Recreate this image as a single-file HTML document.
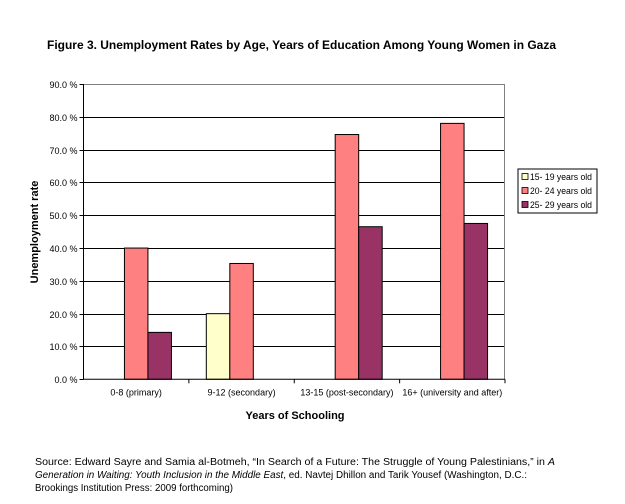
<!DOCTYPE html>
<html><head><meta charset="utf-8"><style>
body{margin:0;background:#fff;}
svg{display:block;font-family:"Liberation Sans",Arial,sans-serif;}
</style></head><body>
<svg width="625" height="504" viewBox="0 0 625 504">
<text x="47" y="49" font-size="12" font-weight="bold" textLength="509" lengthAdjust="spacingAndGlyphs">Figure 3. Unemployment Rates by Age, Years of Education Among Young Women in Gaza</text>
<g id="grid"></g>
<g id="bars"></g>
<g id="axes"></g>
<text transform="translate(38,232) rotate(-90)" text-anchor="middle" font-size="11" font-weight="bold">Unemployment rate</text>
<text x="295" y="419" text-anchor="middle" font-size="11" font-weight="bold">Years of Schooling</text>
<g>
<rect x="518" y="169" width="79" height="44" fill="#fff" stroke="#000" stroke-width="1"/>
<g><rect x="522" y="173.5" width="6" height="6" fill="#ffffcc" stroke="#000" stroke-width="0.8"/><text x="530" y="180" font-size="9" textLength="62" lengthAdjust="spacingAndGlyphs">15- 19 years old</text></g>
<g><rect x="522" y="187.5" width="6" height="6" fill="#ff8080" stroke="#000" stroke-width="0.8"/><text x="530" y="194" font-size="9" textLength="62" lengthAdjust="spacingAndGlyphs">20- 24 years old</text></g>
<g><rect x="522" y="201.5" width="6" height="6" fill="#993366" stroke="#000" stroke-width="0.8"/><text x="530" y="208" font-size="9" textLength="62" lengthAdjust="spacingAndGlyphs">25- 29 years old</text></g>
</g>
<g font-size="10">
<text x="35" y="465" textLength="520" lengthAdjust="spacingAndGlyphs">Source: Edward Sayre and Samia al-Botmeh, “In Search of a Future: The Struggle of Young Palestinians,” in <tspan font-style="italic">A</tspan></text>
<text x="35" y="478" textLength="492" lengthAdjust="spacingAndGlyphs"><tspan font-style="italic">Generation in Waiting: Youth Inclusion in the Middle East</tspan>, ed. Navtej Dhillon and Tarik Yousef (Washington, D.C.:</text>
<text x="35" y="491" textLength="198" lengthAdjust="spacingAndGlyphs">Brookings Institution Press: 2009 forthcoming)</text>
</g>
</svg>
<script>
const categories = ["0-8 (primary)", "9-12 (secondary)", "13-15 (post-secondary)", "16+ (university and after)"];
const seriesNames = ["15-19 years old", "20-24 years old", "25-29 years old"];
const s1519 = [0, 20.0, 0, 0];
const s2024 = [40.0, 35.3, 74.6, 78.0];
const s2529 = [14.3, 0, 46.5, 47.5];
const yTicks = [0, 10, 20, 30, 40, 50, 60, 70, 80, 90];
const yTickLabels = ["0.0 %", "10.0 %", "20.0 %", "30.0 %", "40.0 %", "50.0 %", "60.0 %", "70.0 %", "80.0 %", "90.0 %"];

const NS = "http://www.w3.org/2000/svg";
const L = 83.5, R = 505, T = 84, B = 379.3, YMAX = 90;
const y = v => B - (v / YMAX) * (B - T);
const gw = (R - L) / categories.length;
const bw = 23.5;
const x = (ci, si) => L + ci * gw + (gw - 3 * bw) / 2 + si * bw;
function mk(tag, attrs, parent) { const e = document.createElementNS(NS, tag); for (const k in attrs) e.setAttribute(k, attrs[k]); parent.appendChild(e); return e; }
const grid = document.getElementById("grid"), bars = document.getElementById("bars"), axes = document.getElementById("axes");
yTicks.forEach((t, i) => {
  const yy = Math.round(y(t)) + 0.5;
  if (t > 0) {
    const ln = mk("line", {x1: L, x2: R, y1: yy, y2: yy, stroke: t === YMAX ? "#808080" : "#000", "stroke-width": 1}, grid);
    
    
  }
  mk("line", {x1: L - 4, x2: L, y1: yy, y2: yy, stroke: "#000"}, axes);
  const tx = mk("text", {x: L - 6, y: yy + 3.5, "text-anchor": "end", "font-size": "9"}, axes);
  tx.textContent = yTickLabels[i];
  
  
});
mk("line", {x1: R - 0.5, x2: R - 0.5, y1: T, y2: B, stroke: "#808080"}, grid);
const series = [s1519, s2024, s2529], colors = ["#ffffcc", "#ff8080", "#993366"];
series.forEach((s, si) => s.forEach((v, ci) => {
  if (v <= 0) return;
  const r = mk("rect", {x: x(ci, si), y: y(v), width: bw, height: B - y(v), fill: colors[si], stroke: "#000", "stroke-width": 1}, bars);
  
  
}));
mk("line", {x1: L, x2: L, y1: T, y2: B, stroke: "#000"}, axes);
mk("line", {x1: L, x2: R, y1: B, y2: B, stroke: "#000"}, axes);
categories.forEach((c, ci) => {
  const xx = L + (ci + 1) * gw;
  mk("line", {x1: xx, x2: xx, y1: B, y2: B + 4, stroke: "#000"}, axes);
  const tx = mk("text", {x: L + ci * gw + gw / 2, y: B + 16, "text-anchor": "middle", "font-size": "9"}, axes);
  tx.textContent = c;
  
  
});
</script>
</body></html>
